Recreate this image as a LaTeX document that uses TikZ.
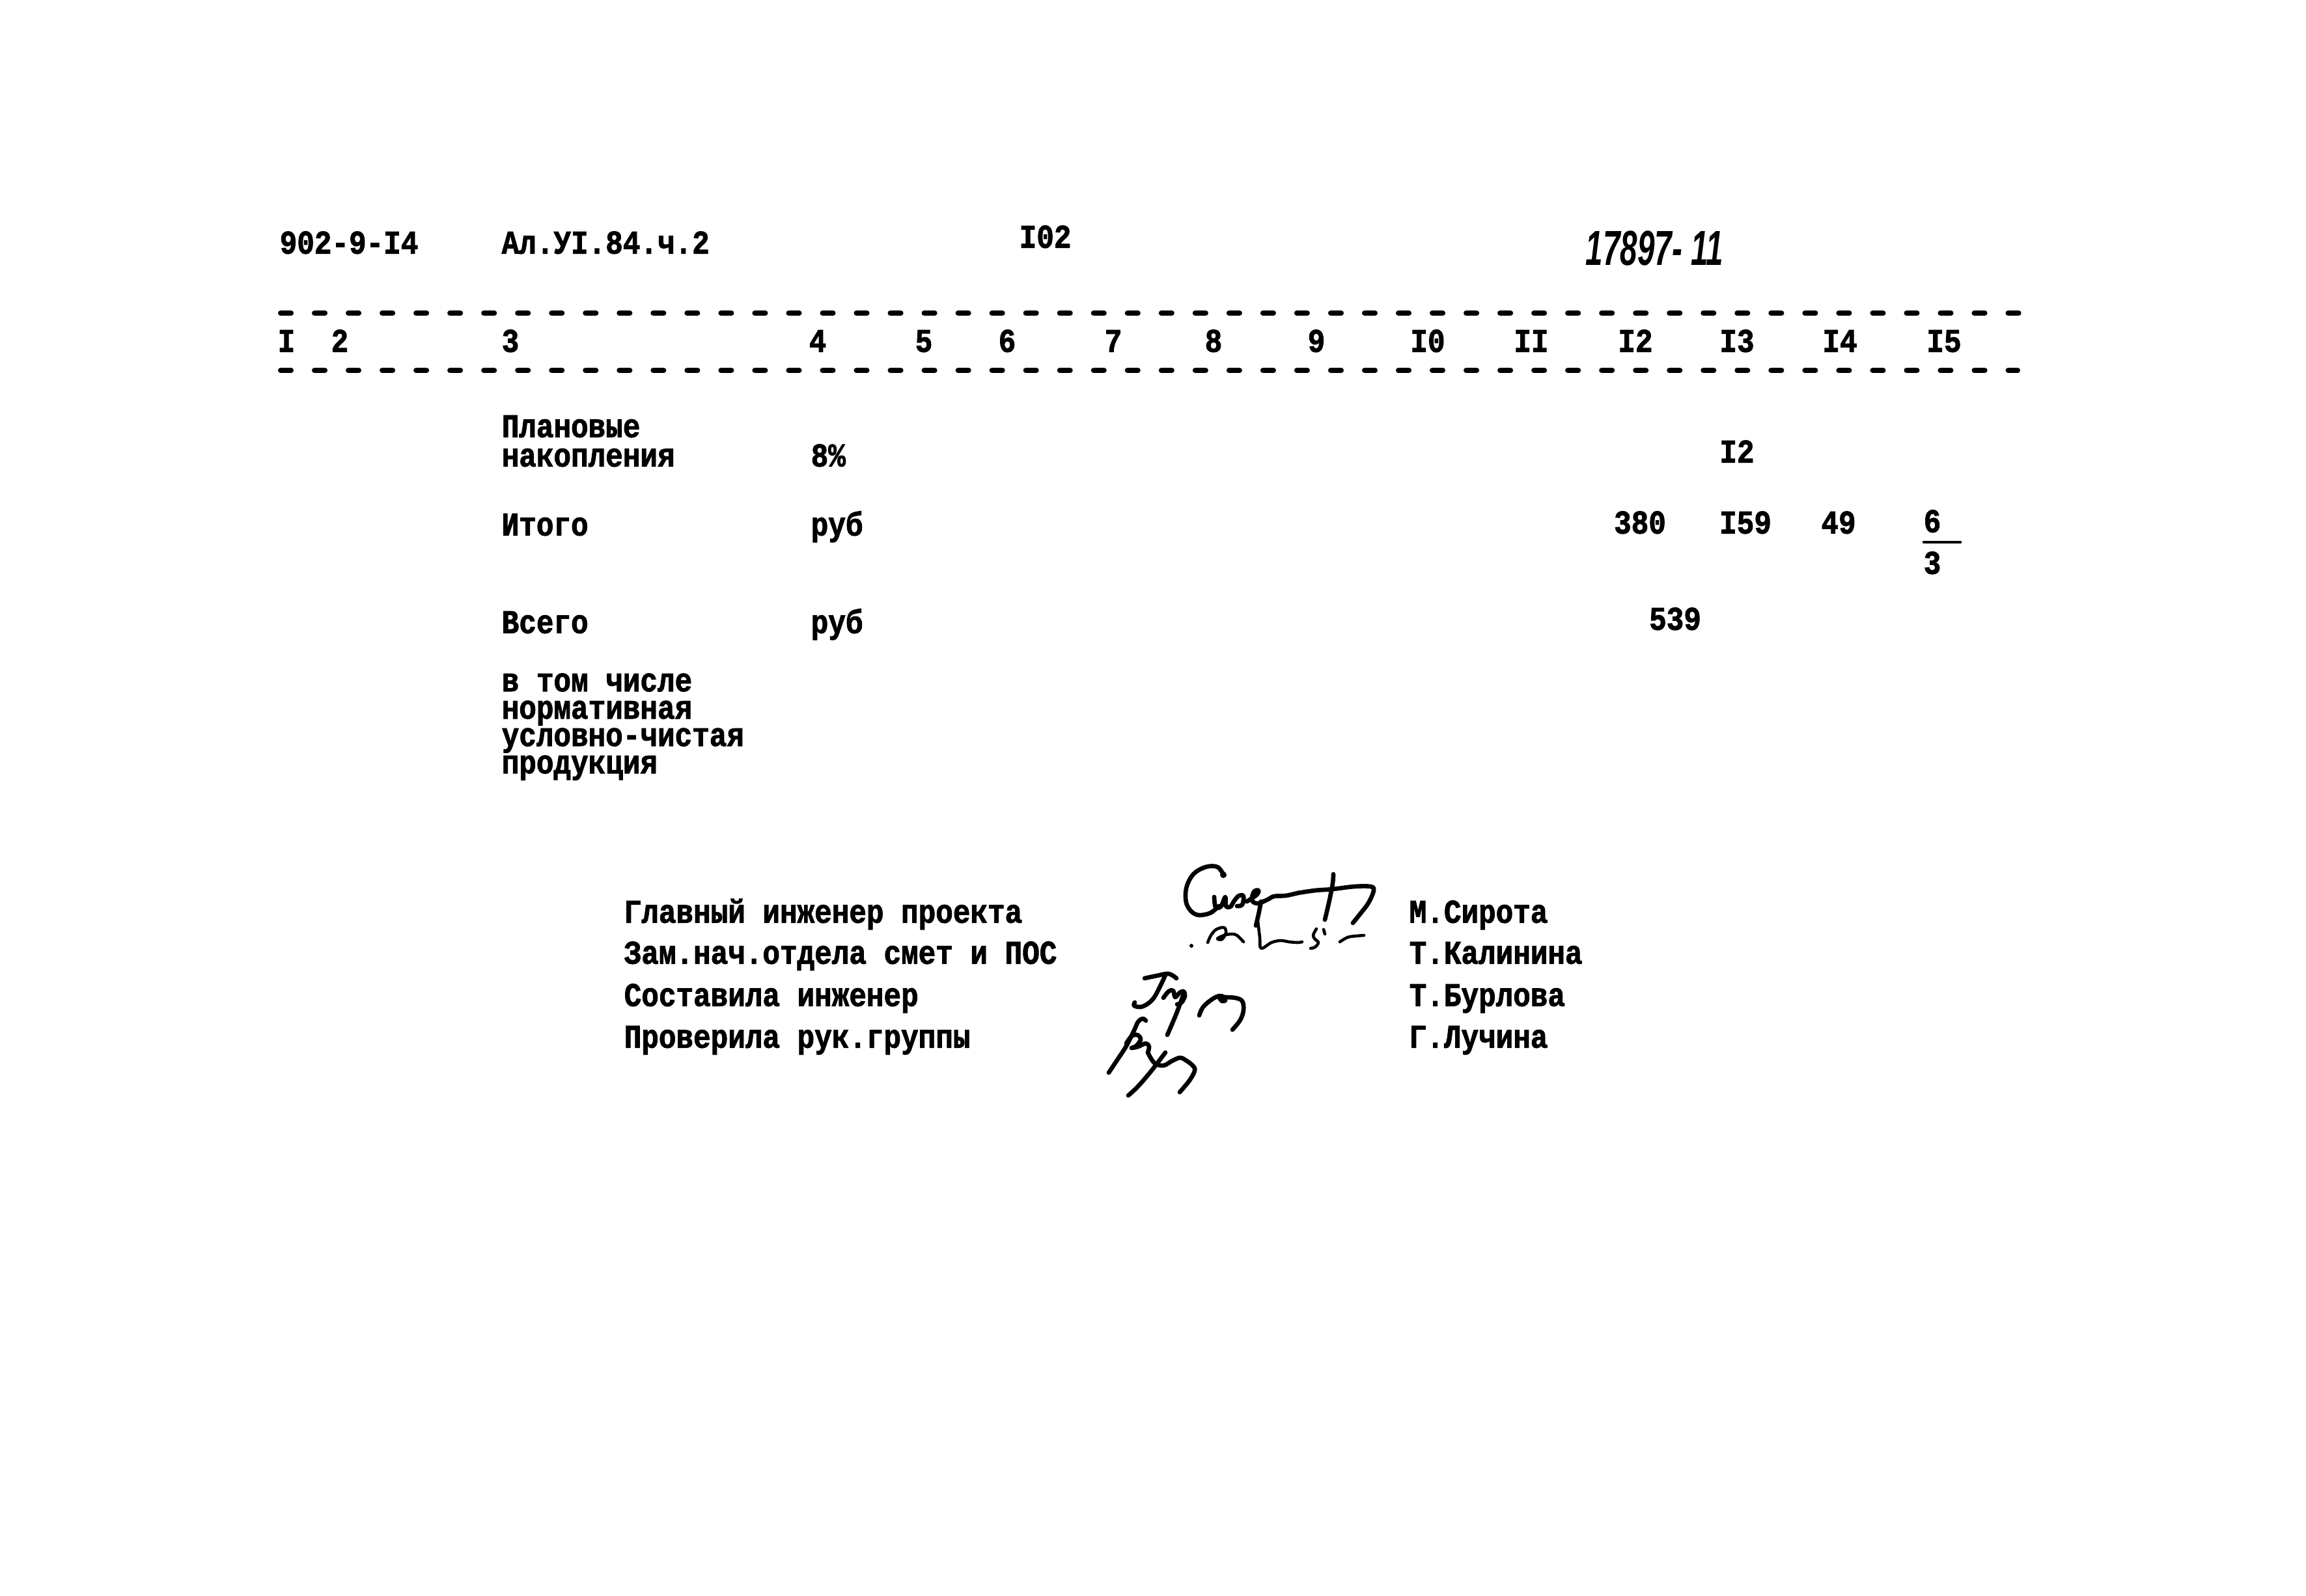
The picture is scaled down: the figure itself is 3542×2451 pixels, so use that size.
\documentclass[tikz,border=0pt]{standalone}
\usepackage{fontspec}
\newfontfamily\tw{Liberation Mono}[BoldFeatures={FakeBold=2}]
\newfontfamily\hand{Liberation Sans}
\newcommand\tx[1]{\scalebox{1}[1.15]{#1}}
\tikzset{
  tt/.style={font=\tw\bfseries\fontsize{12.6}{12.2}\selectfont, inner sep=0pt},
  lbl/.style={tt, anchor=mid west},
  num/.style={tt, anchor=mid},
  dashrule/.style={line width=2.3pt, line cap=round, dash pattern=on 0.16cm off 0.36cm},
  pen/.style={line width=1.9pt, line cap=round, line join=round},
  ul/.style={line width=1.3pt, line cap=round},
}
\begin{document}
\begin{tikzpicture}[x=0.01cm, y=-0.01cm]
\useasboundingbox[fill=white] (0,0) rectangle (3542,2451);
% header
\node[lbl] (code) at (429,382) {\tx{902-9-I4}};
\node[lbl] (alb) at (770,382) {\tx{Ал.УI.84.ч.2}};
\node[lbl] (page) at (1565,373) {\tx{I02}};
\node[anchor=mid west, inner sep=0pt] (inv) at (2435,400) {\scalebox{0.63}[1]{\hand\itshape\bfseries\fontsize{21.5}{22}\selectfont 17897- 11}};
% dashed rules
\coordinate (t1) at (431,481); \coordinate (t2) at (3103,481);
\coordinate (b1) at (431,569); \coordinate (b2) at (3099,569);
\draw[dashrule] (t1) -- (t2);
\draw[dashrule] (b1) -- (b2);
% column numbers
\foreach \lab/\xx [count=\i] in {I/440,2/522,3/784,4/1256,5/1419,6/1547,7/1710,8/1864,9/2022,I0/2193,II/2352,I2/2512,I3/2668,I4/2826,I5/2986}
  \node[num] (c\i) at (\xx,533) {\tx{\lab}};
% rows
\node[lbl] (r1a) at (770,664) {\tx{Плановые}};
\node[lbl] (r1b) at (770,709) {\tx{накопления}};
\node[lbl] (r1u) at (1245,709) {\tx{8\%}};
\node[num] (r1v) at (2668,703) {\tx{I2}};
\node[lbl] (r2a) at (770,815) {\tx{Итого}};
\node[lbl] (r2u) at (1245,815) {\tx{руб}};
\node[num] (r2v12) at (2519,812) {\tx{380}};
\node[num] (r2v13) at (2681,812) {\tx{I59}};
\node[num] (r2v14) at (2824,812) {\tx{49}};
\node[num] (r2v15) at (2968,810) {\tx{6}};
\draw[ul] (2955,833) -- (3011,833);
\node[num] (r2v15b) at (2968,874) {\tx{3}};
\node[lbl] (r3a) at (770,965) {\tx{Всего}};
\node[lbl] (r3u) at (1245,965) {\tx{руб}};
\node[num] (r3v) at (2573,960) {\tx{539}};
\node[tt, anchor=base west] (r4) at (770,1062) {\vtop{\baselineskip=11.95pt\lineskiplimit=-20pt\lineskip=0pt
  \hbox{\tx{в том числе}}\hbox{\tx{нормативная}}\hbox{\tx{условно-чистая}}\hbox{\tx{продукция}}}};
% signature block
\node[lbl] (s1) at (958,1410) {\tx{Главный инженер проекта}};
\node[lbl] (s2) at (958,1473) {\tx{Зам.нач.отдела смет и ПОС}};
\node[lbl] (s3) at (958,1538) {\tx{Составила инженер}};
\node[lbl] (s4) at (958,1602) {\tx{Проверила рук.группы}};
\node[lbl] (n1) at (2164,1410) {\tx{М.Сирота}};
\node[lbl] (n2) at (2164,1473) {\tx{Т.Калинина}};
\node[lbl] (n3) at (2164,1538) {\tx{Т.Бурлова}};
\node[lbl] (n4) at (2164,1602) {\tx{Г.Лучина}};
% handwritten signatures
\draw[pen] plot[smooth, tension=0.6] coordinates {(1880,1345)(1870,1332)(1852,1332)(1833,1343)(1822,1365)(1823,1390)(1837,1405)(1858,1403)(1872,1392)};
\fill (1879,1344) circle (5);
\draw[pen] plot[smooth, tension=0.6] coordinates {(1865,1378)(1867,1393)(1875,1393)(1882,1378)(1883,1392)(1890,1393)(1895,1385)(1903,1376)(1910,1377)(1908,1390)(1900,1392)};
\draw[pen] plot[smooth, tension=0.6] coordinates {(1937,1385)(1933,1405)(1929,1422)};
\draw[pen] plot[smooth, tension=0.6] coordinates {(1915,1385)(1930,1375)(1933,1368)(1926,1370)(1923,1383)(1932,1388)(1947,1382)(1957,1377)(1975,1376)(1993,1372)};
\draw[pen] plot[smooth, tension=0.6] coordinates {(1993,1372)(2020,1368)(2047,1366)(2080,1362)(2105,1362)(2110,1368)(2102,1387)(2090,1403)(2078,1418)};
\draw[pen] plot[smooth, tension=0.6] coordinates {(2048,1343)(2047,1357)(2042,1383)(2035,1413)};
\fill (1830,1453) circle (3);
\draw[pen, line width=1.3pt] plot[smooth, tension=0.6] coordinates {(1855,1448)(1860,1437)(1868,1428)(1880,1425)(1883,1433)(1877,1443)(1870,1442)(1880,1437)(1892,1435)(1900,1437)(1910,1447)};
\draw[pen, line width=1.3pt] plot[smooth, tension=0.6] coordinates {(1932,1415)(1935,1440)(1937,1457)(1953,1448)(1967,1445)(1980,1447)(1993,1448)(2000,1447)};
\draw[pen, line width=1.3pt] plot[smooth, tension=0.6] coordinates {(2022,1427)(2017,1437)(2020,1443)(2025,1448)(2020,1455)(2013,1457)};
\draw[pen, line width=1.3pt] (2033,1428) -- (2035,1435);
\draw[pen, line width=1.3pt] plot[smooth, tension=0.6] coordinates {(2058,1447)(2070,1440)(2083,1438)(2095,1437)};
% second signature
\draw[pen] plot[smooth, tension=0.6] coordinates {(1758,1503)(1777,1499)(1795,1496)(1807,1503)};
\draw[pen] plot[smooth, tension=0.6] coordinates {(1790,1498)(1783,1513)(1773,1532)(1763,1542)(1752,1547)(1742,1545)(1743,1540)};
\draw[pen] plot[smooth, tension=0.6] coordinates {(1787,1533)(1795,1523)(1802,1522)(1805,1532)(1812,1525)(1818,1523)(1820,1530)(1815,1540)(1808,1543)};
\draw[pen] plot[smooth, tension=0.6] coordinates {(1818,1527)(1807,1557)(1793,1590)};
\draw[pen] plot[smooth, tension=0.6] coordinates {(1842,1560)(1848,1547)(1862,1535)(1873,1530)(1880,1532)(1882,1537)(1877,1538)(1873,1533)};
\draw[pen] plot[smooth, tension=0.6] coordinates {(1880,1532)(1897,1533)(1908,1538)(1910,1552)(1905,1567)(1893,1582)};
% third signature
\draw[pen] plot[smooth, tension=0.6] coordinates {(1703,1648)(1717,1627)(1730,1607)(1742,1583)(1748,1570)(1755,1565)(1760,1568)};
\draw[pen] plot[smooth, tension=0.6] coordinates {(1730,1603)(1738,1592)(1747,1590)(1752,1597)(1745,1607)(1738,1610)(1748,1608)(1760,1603)(1765,1608)(1763,1617)};
\draw[pen] plot[smooth, tension=0.6] coordinates {(1763,1617)(1773,1633)(1787,1637)(1800,1630)(1812,1625)(1820,1628)(1832,1637)(1835,1645)(1827,1660)(1812,1678)};
\draw[pen] plot[smooth, tension=0.6] coordinates {(1790,1617)(1767,1647)(1747,1670)(1733,1683)};
\end{tikzpicture}
\end{document}
